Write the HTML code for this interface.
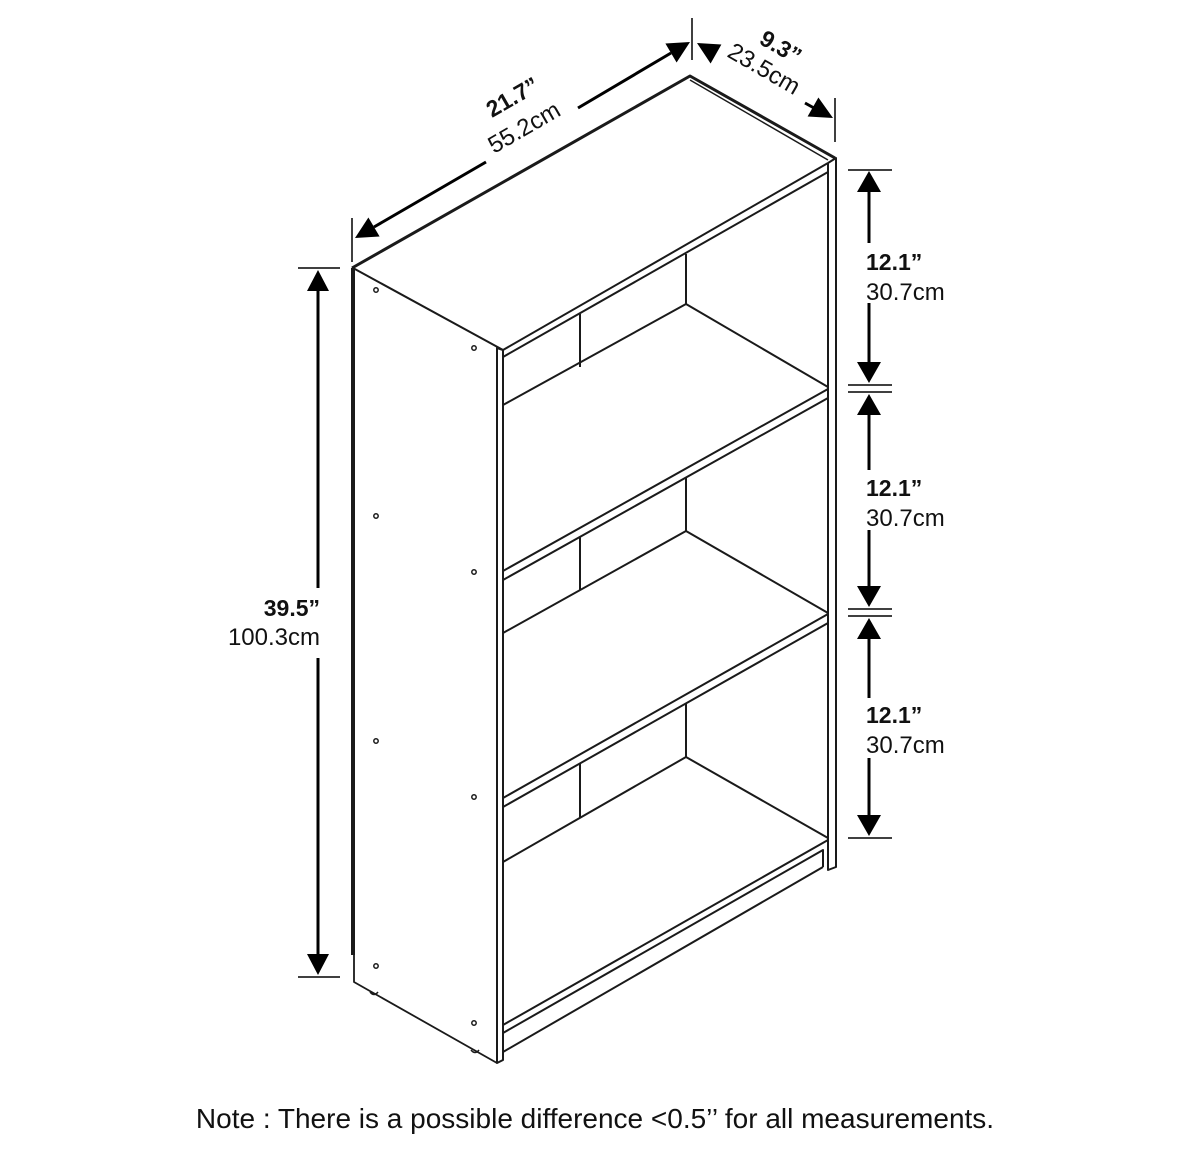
<!DOCTYPE html>
<html><head><meta charset="utf-8"><style>
html,body{margin:0;padding:0;background:#fff;}
svg{display:block;}
text{font-family:"Liberation Sans",sans-serif;fill:#111;}
.b{font-weight:bold;font-size:23px;}
.n{font-size:24px;}
</style></head><body>
<svg width="1200" height="1153" viewBox="0 0 1200 1153" xmlns="http://www.w3.org/2000/svg">
<g stroke="#1a1a1a" fill="none" stroke-linejoin="round">
<path d="M352,268 L690,76 L835,158" stroke-width="3"/>
<path d="M353,268 L503,350" stroke-width="2"/>
<path d="M690,80 L828,160" stroke-width="1.5"/>
<path d="M503,350 L828,163" stroke-width="2"/>
<path d="M503,357 L828,172" stroke-width="2"/>
<path d="M353,268 L353,955" stroke-width="4"/>
<path d="M354,955 L354,982 L497,1063" stroke-width="1.8"/>
<path d="M497,348 L497,1063 L503,1060 L503,350 Z" stroke-width="2"/>
<path d="M828,163 L828,870 L836,867 L836,158 L828,163" stroke-width="2"/>
<path d="M580,314 L580,367 M686,254 L686,305 M503,405 L686,304 L828,387" stroke-width="2"/>
<path d="M503,571 L828,389 M503,580 L828,398" stroke-width="2"/>
<path d="M580,537 L580,590 M686,478 L686,531 M503,633 L686,531 L828,613" stroke-width="2"/>
<path d="M503,798 L828,614 M503,807 L828,623" stroke-width="2"/>
<path d="M580,763 L580,818 M686,703 L686,757 M503,862 L686,757 L828,838" stroke-width="2"/>
<path d="M503,1025 L828,840 M503,1033 L823,850 L823,867 M503,1052 L823,867" stroke-width="2"/>
<g stroke-width="1.5">
<circle cx="376" cy="290" r="2.2"/><circle cx="474" cy="348" r="2.2"/>
<circle cx="376" cy="516" r="2.2"/><circle cx="474" cy="572" r="2.2"/>
<circle cx="376" cy="741" r="2.2"/><circle cx="474" cy="797" r="2.2"/>
<circle cx="376" cy="966" r="2.2"/><circle cx="474" cy="1023" r="2.2"/>
</g>
<path d="M370,992 q4,5 8,0 M471,1050 q4,5 8,0" stroke-width="1.5"/>
</g>

<g stroke="#000" stroke-width="3" fill="#000">
<path d="M298,268 L340,268 M298,977 L340,977" stroke-width="1.5"/>
<path d="M318,290 L318,588 M318,658 L318,955"/>
<path d="M318,270 L307,291 L329,291 Z M318,975 L307,954 L329,954 Z" stroke="none"/>
<path d="M848,170 L892,170 M848,385 L892,385 M848,392 L892,392 M848,609 L892,609 M848,616 L892,616 M848,838 L892,838" stroke-width="1.5"/>
<path d="M869,190 L869,243 M869,303 L869,363 M869,414 L869,470 M869,530 L869,588 M869,638 L869,698 M869,758 L869,818"/>
<path d="M869,171 L857,192 L881,192 Z M869,383 L857,362 L881,362 Z M869,394 L857,415 L881,415 Z M869,607 L857,586 L881,586 Z M869,618 L857,639 L881,639 Z M869,836 L857,815 L881,815 Z" stroke="none"/>
<!-- width (top) -->
<path d="M352,218 L352,262 M692,18 L692,60" stroke-width="1.5"/>
<path d="M374,227 L486,162 M578,108 L671,53"/>
<path d="M355,238 L379.6,236.5 L368.4,217.5 Z M690,42 L676.6,62.5 L665.4,43.5 Z" stroke="none"/>
<!-- depth -->
<path d="M835,98 L835,142" stroke-width="1.5"/>
<path d="M805,103 L814,108"/>
<path d="M697,43 L721.4,44.5 L710.6,63.5 Z M833,118 L818.4,97.5 L807.6,116.5 Z" stroke="none"/>
</g>

<text class="b" x="320" y="616" text-anchor="end">39.5”</text>
<text class="n" x="320" y="645" text-anchor="end">100.3cm</text>

<text class="b" x="866" y="270">12.1”</text>
<text class="n" x="866" y="300">30.7cm</text>
<text class="b" x="866" y="496">12.1”</text>
<text class="n" x="866" y="526">30.7cm</text>
<text class="b" x="866" y="723">12.1”</text>
<text class="n" x="866" y="753">30.7cm</text>

<text class="b" transform="translate(492,118) rotate(-30)">21.7”</text>
<text class="n" transform="translate(494,154) rotate(-30)">55.2cm</text>

<text class="b" transform="translate(758,43) rotate(30)">9.3”</text>
<text class="n" transform="translate(726,56) rotate(30)">23.5cm</text>

<text x="595" y="1128" text-anchor="middle" style="font-size:28px">Note : There is a possible difference &lt;0.5’’ for all measurements.</text>
</svg>
</body></html>
